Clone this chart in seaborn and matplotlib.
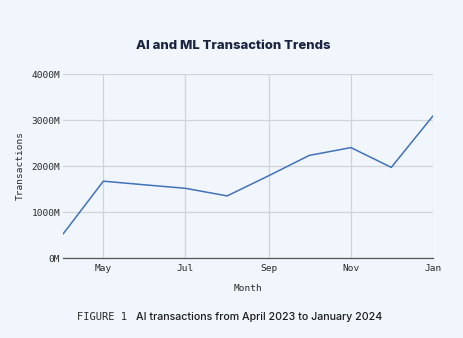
import matplotlib
matplotlib.use("Agg")
import matplotlib.pyplot as plt
import matplotlib.dates as mdates
import matplotlib.ticker as mticker
import seaborn as sns
import pandas as pd

months = ["2023-04", "2023-05", "2023-06", "2023-07", "2023-08", "2023-09",
          "2023-10", "2023-11", "2023-12", "2024-01"]
transactions_m = [520, 1670, 1590, 1515, 1350, 1790, 2230, 2400, 1970, 3090]
y_ticks = [0, 1000, 2000, 3000, 4000]
x_tick_months = ["2023-05", "2023-07", "2023-09", "2023-11", "2024-01"]

df = pd.DataFrame({"Month": pd.to_datetime(months), "Transactions": transactions_m})

bg = "#f1f6fd"
sns.set_theme(style="white")
plt.rcParams["font.family"] = ["DejaVu Sans"]

fig = plt.figure(figsize=(4.64, 3.38), dpi=100, facecolor=bg)
ax = fig.add_axes([63/464, 80/338, 370/464, 184/338])
ax.set_facecolor(bg)

sns.lineplot(data=df, x="Month", y="Transactions", ax=ax, color="#4272b8", linewidth=1.1)

ax.set_xlim(df["Month"].iloc[0], df["Month"].iloc[-1])
ax.set_ylim(0, 4000)
ax.set_yticks(y_ticks)
ax.yaxis.set_major_formatter(mticker.FuncFormatter(lambda v, p: f"{int(v)}M"))
ax.set_xticks(pd.to_datetime(x_tick_months))
ax.xaxis.set_major_formatter(mdates.DateFormatter("%b"))

ax.grid(True, color="#d0d3d8", linewidth=0.9)
ax.set_axisbelow(True)
for s in ["top", "right", "left"]:
    ax.spines[s].set_visible(False)
ax.spines["bottom"].set_color("#555555")
ax.spines["bottom"].set_linewidth(0.9)

mono = "DejaVu Sans Mono"
ax.tick_params(axis="x", length=0, pad=4, labelsize=6.8, colors="#2a2a2a")
ax.tick_params(axis="y", length=0, pad=2, labelsize=6.8, colors="#2a2a2a")
for lab in ax.get_xticklabels() + ax.get_yticklabels():
    lab.set_fontfamily(mono)

ax.set_xlabel("Month", fontfamily=mono, fontsize=6.8, color="#2a2a2a", labelpad=8)
ax.set_ylabel("Transactions", fontfamily=mono, fontsize=6.8, color="#2a2a2a", labelpad=5)

fig.text(233/464, 1 - 46/338, "AI and ML Transaction Trends", ha="center", va="center",
         fontsize=9.4, fontweight="heavy", color="#1b2440", fontfamily="Inter")

fig.text(77/464, 1 - 317/338, "FIGURE 1", ha="left", va="center",
         fontsize=7.5, color="#2a2a2a", fontfamily=mono)
fig.text(136/464, 1 - 317/338, "AI transactions from April 2023 to January 2024", ha="left",
         va="center", fontsize=7.7, color="#1b1b1b", fontfamily="Inter", fontweight="medium")

fig.savefig("out.png", dpi=100, facecolor=bg)
